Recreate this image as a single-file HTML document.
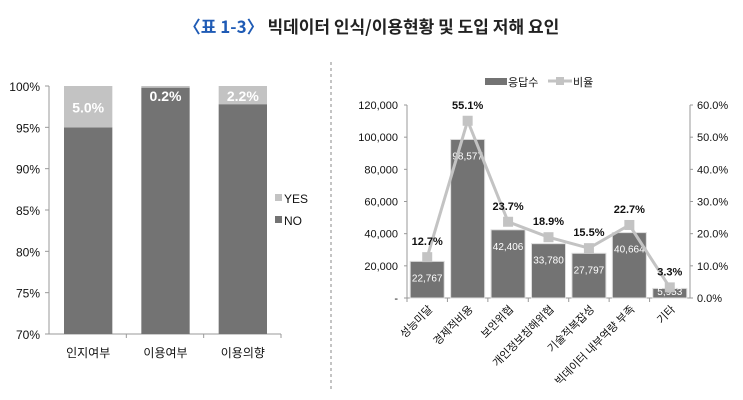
<!DOCTYPE html>
<html><head><meta charset="utf-8">
<style>
body{margin:0;width:743px;height:400px;background:#fff;overflow:hidden;font-family:"Liberation Sans","Noto Sans CJK KR",sans-serif}
#t{position:absolute;left:0;top:13px;width:743px;text-align:center;font-size:17px;font-weight:bold;color:#222;font-family:"Noto Sans CJK KR","Liberation Sans",sans-serif}
#t span{color:#1f5bb5}
svg{position:absolute;left:0;top:0}
text{font-family:"Liberation Sans","Noto Sans CJK KR",sans-serif}
</style></head><body>
<div id="t"><span>〈표 1-3〉</span> 빅데이터 인식/이용현황 및 도입 저해 요인</div>
<svg id="s" width="743" height="400">
<line x1="331" y1="62" x2="331" y2="392" stroke="#888" stroke-dasharray="3,3"/>
</svg>
<script>
const leftCats=["인지여부","이용여부","이용의향"];
const leftYes=[5.0,0.2,2.2];
const leftTicks=[70,75,80,85,90,95,100];
const rightCats=["성능미달","경제적비용","보안위협","개인정보침해위협","기술적복잡성","빅데이터 내부역량 부족","기타"];
const rightCounts=[22767,98577,42406,33780,27797,40664,5953];
const rightPct=[12.7,55.1,23.7,18.9,15.5,22.7,3.3];
const countTicks=[0,20000,40000,60000,80000,100000,120000];
const pctTicks=[0,10,20,30,40,50,60];

const s=document.getElementById('s');const NS='http://www.w3.org/2000/svg';
function mk(t,a,txt){const e=document.createElementNS(NS,t);for(const k in a)e.setAttribute(k,a[k]);if(txt!==undefined)e.textContent=txt;s.appendChild(e);return e;}
// left chart
const lx0=49,lx1=281,ly0=334,ly1=86;
const ly=v=>ly0-(v-70)/30*(ly0-ly1);
const lcw=(lx1-lx0)/leftCats.length;
leftTicks.forEach(v=>{
 const e=mk('text',{x:40,y:ly(v)+5,'text-anchor':'end','font-size':12,fill:'#111'},v+'%');
 
 
 mk('line',{x1:lx0-4,x2:lx0,y1:ly(v),y2:ly(v),stroke:'#999'});
});
mk('line',{x1:lx0,x2:lx0,y1:ly1,y2:ly0,stroke:'#999'});
mk('line',{x1:lx0,x2:lx1,y1:ly0,y2:ly0,stroke:'#999'});
leftCats.forEach((c,i)=>{
 const x=lx0+lcw*i+15,w=lcw-29;
 const no=100-leftYes[i];
 const b=mk('rect',{x:x,y:ly(no),width:w,height:ly0-ly(no),fill:'#737373'});
 
 
 const y=mk('rect',{x:x,y:ly(100),width:w,height:ly(no)-ly(100),fill:'#c3c3c3'});
 
 
 const lbl=mk('text',{x:x+w/2,y:Math.max(ly(100)+(ly(no)-ly(100))/2+6,ly(100)+15),'text-anchor':'middle','font-size':14,'font-weight':'bold',fill:'#fff'},leftYes[i].toFixed(1)+'%');
 
 
 mk('line',{x1:lx0+lcw*(i+1),x2:lx0+lcw*(i+1),y1:ly0,y2:ly0+4,stroke:'#999'});
 const t=mk('text',{x:x+w/2,y:357,'text-anchor':'middle','font-size':12,fill:'#111'},c);
 
 
});
mk('rect',{x:275,y:194,width:7,height:7,fill:'#c3c3c3'});
let e=mk('text',{x:284,y:203,'font-size':12,fill:'#111'},'YES');


mk('rect',{x:275,y:216,width:7,height:7,fill:'#737373'});
e=mk('text',{x:284,y:225,'font-size':12,fill:'#111'},'NO');


// right chart
const rx0=407,rx1=690,ry0=298,ry1=105;
const cy=v=>ry0-v/120000*(ry0-ry1);
const py=v=>ry0-v/60*(ry0-ry1);
const rcw=(rx1-rx0)/rightCats.length;
mk('line',{x1:rx0,x2:rx0,y1:ry1,y2:ry0,stroke:'#999'});
mk('line',{x1:rx1,x2:rx1,y1:ry1,y2:ry0,stroke:'#999'});
mk('line',{x1:rx0,x2:rx1,y1:ry0,y2:ry0,stroke:'#999'});
countTicks.forEach(v=>{
 e=mk('text',{x:398,y:cy(v)+4,'text-anchor':'end','font-size':11,fill:'#111'},v===0?'-':v.toLocaleString('en-US'));
 
 
 mk('line',{x1:rx0-3,x2:rx0,y1:cy(v),y2:cy(v),stroke:'#999'});
});
pctTicks.forEach(v=>{
 e=mk('text',{x:697,y:py(v)+4,'font-size':11,fill:'#111'},v.toFixed(1)+'%');
 
 
 mk('line',{x1:rx1,x2:rx1+3,y1:py(v),y2:py(v),stroke:'#999'});
});
const pts=[];
rightCats.forEach((c,i)=>{
 const cx=rx0+rcw*(i+0.5),w=34;
 const b=mk('rect',{x:cx-w/2,y:cy(rightCounts[i]),width:w,height:ry0-cy(rightCounts[i]),fill:'#737373',stroke:'#ddd','stroke-width':1});
 
 
 const lb=mk('text',{x:cx,y:Math.min(cy(rightCounts[i])+20,ry0-3),'text-anchor':'middle','font-size':10,fill:'#fff'},rightCounts[i].toLocaleString('en-US'));
 
 
 mk('line',{x1:rx0+rcw*i,x2:rx0+rcw*i,y1:ry0,y2:ry0+4,stroke:'#999'});
 pts.push([cx,py(rightPct[i])]);
 const xl=mk('text',{x:cx+6,y:ry0+12,'text-anchor':'end','font-size':11,fill:'#111',transform:`rotate(-45 ${cx+6} ${ry0+12})`},c);
 
 
});
const ln=mk('polyline',{points:pts.map(p=>p.join(',')).join(' '),fill:'none',stroke:'#c3c3c3','stroke-width':3});


pts.forEach((p,i)=>{
 const m=mk('rect',{x:p[0]-5,y:p[1]-5,width:10,height:10,fill:'#c3c3c3'});
 
 
 const t=mk('text',{x:p[0],y:p[1]-12,'text-anchor':'middle','font-size':11,'font-weight':'bold',fill:'#111'},rightPct[i].toFixed(1)+'%');
 
 
});
mk('rect',{x:485,y:78,width:22,height:7,fill:'#737373'});
e=mk('text',{x:508,y:86,'font-size':11,fill:'#111'},'응답수');


mk('line',{x1:548,x2:572,y1:81,y2:81,stroke:'#c3c3c3','stroke-width':3});
mk('rect',{x:556,y:77,width:8,height:8,fill:'#c3c3c3'});
e=mk('text',{x:573,y:86,'font-size':11,fill:'#111'},'비율');


</script>
</body></html>
